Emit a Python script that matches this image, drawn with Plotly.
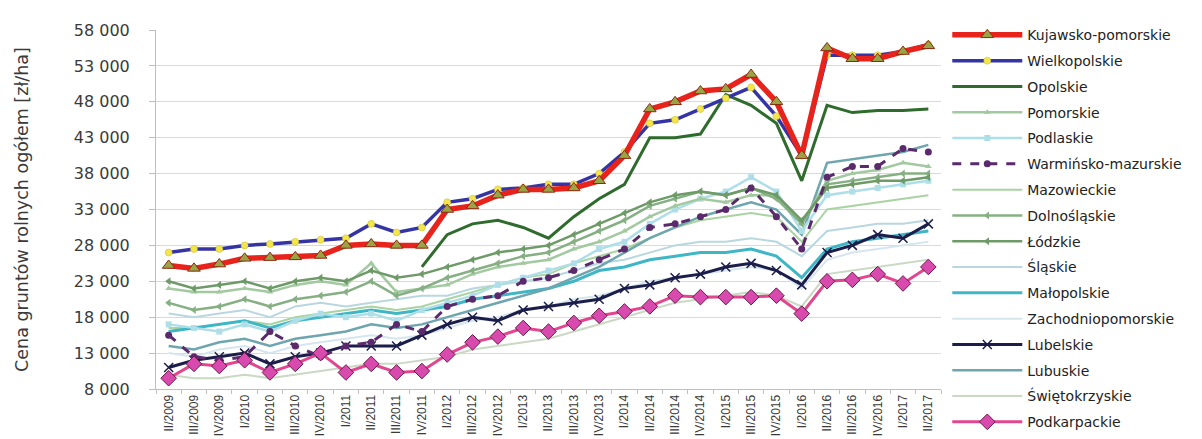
import plotly.graph_objects as go

categories = ["II/2009","III/2009","IV/2009","I/2010","II/2010","III/2010","IV/2010",
              "I/2011","II/2011","III/2011","IV/2011","I/2012","III/2012","IV/2012",
              "I/2013","II/2013","III/2013","IV/2013","I/2014","II/2014","III/2014","IV/2014",
              "I/2015","III/2015","IV/2015","I/2016","II/2016","III/2016","IV/2016","I/2017","II/2017"]

kujawsko_pomorskie = [25200,24800,25400,26200,26300,26400,26600,28000,28200,28000,28000,33000,33500,35000,
                      35800,35800,36000,37000,40500,47000,48000,49500,49800,51800,48000,40500,55500,54000,54000,55000,55800]
wielkopolskie = [27000,27500,27500,28000,28200,28500,28800,29000,31000,29800,30500,34000,34500,35800,
                 36000,36500,36500,38000,41000,45000,45500,47000,48500,50000,46000,40500,54500,54500,54500,55000,56000]
opolskie = [None,None,None,None,None,None,None,None,None,None,25000,29500,31000,31500,
            30500,29000,32000,34500,36500,43000,43000,43500,49000,47500,45000,37000,47500,46500,46800,46800,47000]
pomorskie = [22000,21500,21500,22000,21500,22500,23000,22500,25500,21500,22000,22500,24000,25000,
             25500,26000,27500,28500,30000,32000,33500,34500,34000,35000,35000,31000,37000,38000,38500,39500,39000]
podlaskie = [17000,16500,16000,17000,16000,17500,18500,18000,18500,17500,19000,20000,21000,22500,
             23500,24500,25500,27500,28500,31000,33000,34500,35500,37500,35500,30000,35000,35500,36000,36500,37000]
warminsko_mazurskie = [15500,12500,12000,12500,16000,14000,12500,14000,14500,17000,16000,19500,20500,21000,
                       23000,23500,24500,26000,27500,30500,31000,32000,33000,36000,32000,27500,37500,39000,39000,41500,41000]
mazowieckie = [16500,16500,17000,17500,17000,18000,18500,19000,19500,19000,19500,20500,21500,22500,
               23500,24000,25500,26500,27500,29000,30500,31500,32000,32500,32000,28500,33000,33500,34000,34500,35000]
dolnoslaskie = [20000,19000,19500,20500,19500,20500,21000,21500,23000,21000,22000,23500,24500,25500,
                26500,27000,28500,30000,31500,33500,34500,35500,35000,36000,34500,31000,36500,37000,37500,38000,38000]
lodzkie = [23000,22000,22500,23000,22000,23000,23500,23000,24500,23500,24000,25000,26000,27000,
           27500,28000,29500,31000,32500,34000,35000,35500,35000,36000,35000,31500,36000,36500,37000,37000,37500]
slaskie = [18500,18000,18500,19000,18000,19500,20000,19500,20000,20500,21000,21000,22000,22500,
           23000,23500,24500,25500,26000,27000,28000,28500,28500,29000,28500,26500,30000,30500,31000,31000,31500]
malopolskie = [16000,16500,17000,17500,16500,17500,18000,18500,19000,18500,19000,19500,20500,21000,
               21500,22000,23000,24500,25000,26000,26500,27000,27000,27500,26500,23500,27500,28500,29000,29500,30000]
zachodniopomorskie = [13000,12500,13500,14000,13000,14000,14500,15000,15500,15000,15500,16500,17500,18000,
                      19000,19500,20500,21000,22000,23000,23500,24000,24500,25000,24500,22000,26000,27000,27500,28000,28500]
lubelskie = [11000,12000,12500,13000,11500,12500,13000,14000,14000,14000,15500,17000,18000,17500,
             19000,19500,20000,20500,22000,22500,23500,24000,25000,25500,24500,22500,27000,28000,29500,29000,31000]
lubuskie = [14000,13500,14500,15000,14000,15000,15500,16000,17000,16500,17000,18000,19000,20000,
            21000,22000,23500,25000,27000,29000,30500,32000,33000,34000,33000,29500,39500,40000,40500,41000,42000]
swietokrzyskie = [10000,9500,9500,10000,9500,10000,10500,11000,11500,11500,12000,12500,13500,14000,
                  14500,15000,16000,17000,18000,19000,20000,20500,21000,21500,21000,19500,24000,24500,25000,25500,26000]
podkarpackie = [9500,11500,11200,12000,10300,11500,13000,10300,11500,10300,10500,12800,14500,15300,
                16500,16000,17200,18200,18800,19500,21000,20800,20800,20800,21000,18500,23000,23200,24000,22700,25000]

y_ticks = [8000,13000,18000,23000,28000,33000,38000,43000,48000,53000,58000]

# (name, values, legend rank, line style, marker style)
series = [
    ("Zachodniopomorskie", zachodniopomorskie, 12, dict(color="#D6E6EE", width=2), None),
    ("Świętokrzyskie", swietokrzyskie, 15, dict(color="#C9D9C3", width=2), None),
    ("Śląskie", slaskie, 10, dict(color="#B9D7DF", width=2), None),
    ("Mazowieckie", mazowieckie, 7, dict(color="#A9D4A2", width=2), None),
    ("Małopolskie", malopolskie, 11, dict(color="#3FB6C6", width=3), None),
    ("Lubuskie", lubuskie, 14, dict(color="#6FA6AE", width=2.5), None),
    ("Podlaskie", podlaskie, 5, dict(color="#AEDFE8", width=2.5), dict(symbol="square", size=6, color="#AEDFE8")),
    ("Pomorskie", pomorskie, 4, dict(color="#A3C9A0", width=2.5), dict(symbol="triangle-up", size=6, color="#A3C9A0")),
    ("Dolnośląskie", dolnoslaskie, 8, dict(color="#86B083", width=2.5), dict(symbol="triangle-left", size=7, color="#86B083")),
    ("Łódzkie", lodzkie, 9, dict(color="#6E9A68", width=2.5), dict(symbol="triangle-left", size=7, color="#6E9A68")),
    ("Lubelskie", lubelskie, 13, dict(color="#1B1D4A", width=3), dict(symbol="x-thin", size=9, line=dict(color="#1B1D4A", width=1.5))),
    ("Warmińsko-mazurskie", warminsko_mazurskie, 6, dict(color="#5A2A6C", width=3, dash="dash"), dict(symbol="circle", size=7, color="#5A2A6C")),
    ("Podkarpackie", podkarpackie, 16, dict(color="#E2468E", width=3), dict(symbol="diamond", size=12, color="#D94AAE", line=dict(color="#6A1848", width=1))),
    ("Opolskie", opolskie, 3, dict(color="#2E6B2C", width=3), None),
    ("Wielkopolskie", wielkopolskie, 2, dict(color="#3434A4", width=3.5), dict(symbol="circle", size=7, color="#F2E64A", line=dict(color="#C9B830", width=0.5))),
    ("Kujawsko-pomorskie", kujawsko_pomorskie, 1, dict(color="#E8231C", width=5.5), dict(symbol="triangle-up", size=11, color="#9AA445", line=dict(color="#8A2A10", width=1))),
]

fig = go.Figure()
for name, vals, rank, line, marker in series:
    fig.add_trace(go.Scatter(
        x=categories, y=vals, name=name, legendrank=rank, legendgroup=name,
        mode="lines+markers" if marker else "lines",
        line=line, marker=marker if marker else None,
        connectgaps=False,
    ))

wide_font = "DejaVu Sans, Verdana, sans-serif"

fig.update_layout(
    width=1202, height=439,
    margin=dict(l=148, r=269, t=22, b=58, autoexpand=False),
    paper_bgcolor="white", plot_bgcolor="white",
    separators=", ",
    font=dict(family="Liberation Sans, Arial, sans-serif", size=13, color="#3A3A3A"),
    showlegend=True,
    legend=dict(x=1.008, xanchor="left", y=1.03, yanchor="top",
                font=dict(family=wide_font, size=14, color="#222222"), tracegroupgap=4.6,
                itemwidth=70, bgcolor="rgba(0,0,0,0)", maxheight=430),
    xaxis=dict(type="category", tickangle=-90, showgrid=False, automargin=False,
               range=[-0.5, len(categories) - 0.5],
               showline=True, linecolor="#BFBFBF", ticks="outside", ticklen=4,
               tickson="boundaries",
               tickcolor="#BFBFBF", tickfont=dict(size=12, color="#3A3A3A")),
    yaxis=dict(range=[8000, 58000], tickvals=y_ticks, tickformat=",d", automargin=False,
               showgrid=True, gridcolor="#D9D9D9", gridwidth=1,
               showline=True, linecolor="#BFBFBF", ticks="outside", ticklen=6,
               ticklabelstandoff=16,
               tickcolor="#BFBFBF", zeroline=False,
               tickfont=dict(family=wide_font, size=16, color="#3A3A3A"),
               title=dict(text="Cena gruntów rolnych ogółem [zł/ha]", standoff=40,
                          font=dict(family=wide_font, size=17.5, color="#3A3A3A"))),
)

fig.write_html("out.html")
